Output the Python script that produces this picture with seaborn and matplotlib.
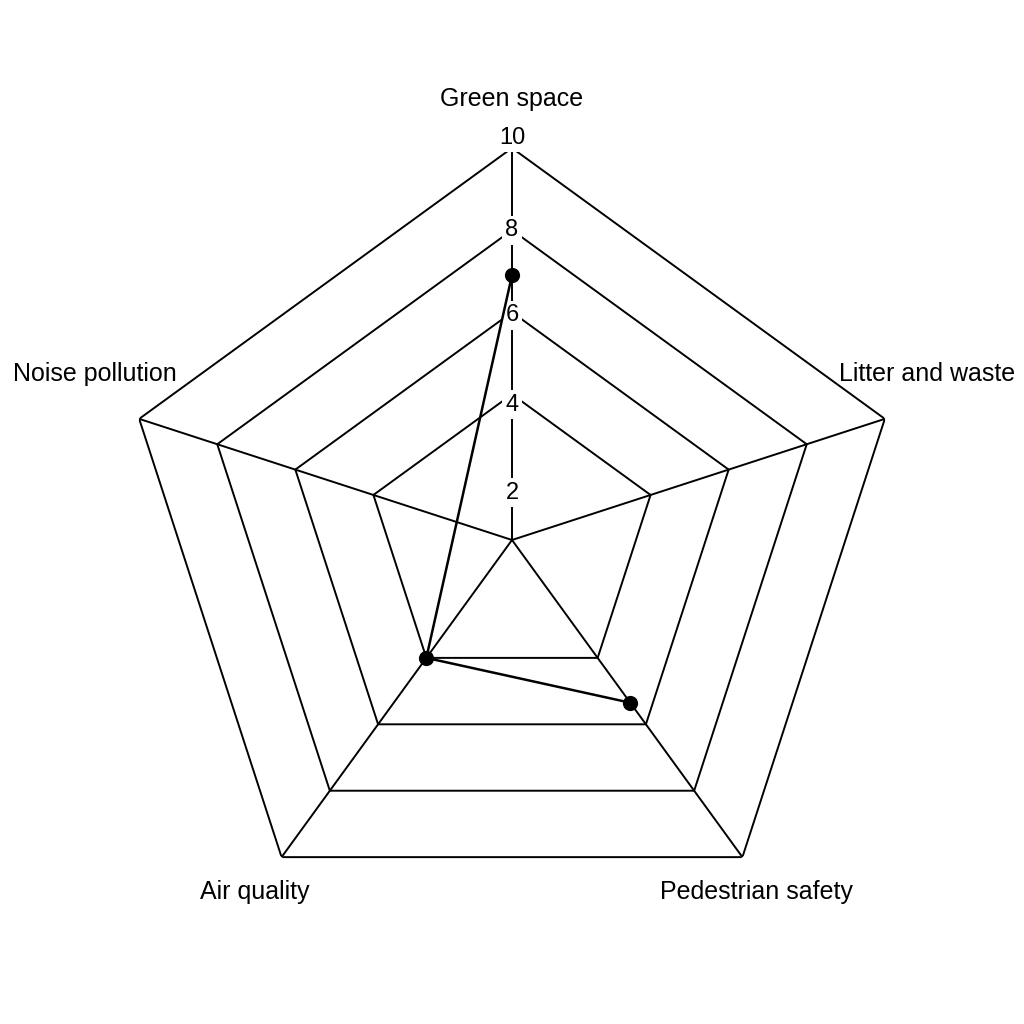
import numpy as np
import pandas as pd
import matplotlib
matplotlib.use("Agg")
import matplotlib.pyplot as plt
import seaborn as sns

# ---- data ----
categories = ["Green space", "Litter and waste", "Pedestrian safety", "Air quality", "Noise pollution"]
scores = [6.9, np.nan, 5.35, 4.0, np.nan]
# the drawn path runs Pedestrian safety -> Air quality -> Green space
path_order = ["Pedestrian safety", "Air quality", "Green space"]
grid_levels = [4, 6, 8, 10]
tick_values = [2, 4, 6, 8, 10]
tick_labels = ["2", "4", "6", "8", "10"]

# ---- layout ----
r_min, r_max = 0.45, 10
tick_label_r = [1.6, 3.75, 5.93, 8.0, 10.25]
label_offsets_px = {
    "Green space": (0, 49),
    "Litter and waste": (42, 45),
    "Pedestrian safety": (14, -35),
    "Air quality": (-27, -35),
    "Noise pollution": (-44, 45),
}

sns.set_theme(style="white")
plt.rcParams["font.family"] = ["Liberation Sans", "DejaVu Sans"]

W = 1024
fig = plt.figure(figsize=(10.24, 10.24), dpi=100)
fig.patch.set_facecolor("white")
R = 392
ax = fig.add_axes([(512 - R) / W, (W - 540 - R) / W, 2 * R / W, 2 * R / W], projection="polar")
ax.set_theta_offset(np.pi / 2)
ax.set_theta_direction(-1)
ax.set_ylim(r_min, r_max)
ax.grid(False)
ax.spines["polar"].set_visible(False)
ax.set_xticks([])
ax.set_yticks([])
ax.set_facecolor("white")

n = len(categories)
angles = {c: 2 * np.pi * i / n for i, c in enumerate(categories)}
theta_ring = [angles[c] for c in categories] + [angles[categories[0]]]

# pentagon grid
for lv in grid_levels:
    ax.plot(theta_ring, [lv] * (n + 1), color="black", lw=1.4, zorder=1)
# spokes
for c in categories:
    ax.plot([angles[c], angles[c]], [r_min, r_max], color="black", lw=1.4, zorder=1)

# data path
df = pd.DataFrame({"category": categories, "score": scores}).set_index("category")
path = df.loc[path_order].reset_index()
path["theta"] = path["category"].map(angles)
sns.lineplot(data=path, x="theta", y="score", sort=False, estimator=None,
             color="black", lw=1.8, ax=ax, zorder=4)
sns.scatterplot(data=path, x="theta", y="score", color="black", s=120,
                edgecolor="black", linewidth=0, ax=ax, zorder=5)
ax.set_xlabel("")
ax.set_ylabel("")
ax.set_ylim(r_min, r_max)

# radial tick labels
for v, lab, rl in zip(tick_values, tick_labels, tick_label_r):
    ax.text(0, rl, lab, ha="center", va="center", fontsize=17, color="black", zorder=2,
            bbox=dict(facecolor="white", edgecolor="none", pad=2.5))

# category labels
for c in categories:
    ax.annotate(c, xy=(angles[c], r_max), xytext=label_offsets_px[c], textcoords="offset pixels",
                ha="center", va="center", fontsize=18, color="black", annotation_clip=False)

fig.savefig("out.png", dpi=100, facecolor="white")
